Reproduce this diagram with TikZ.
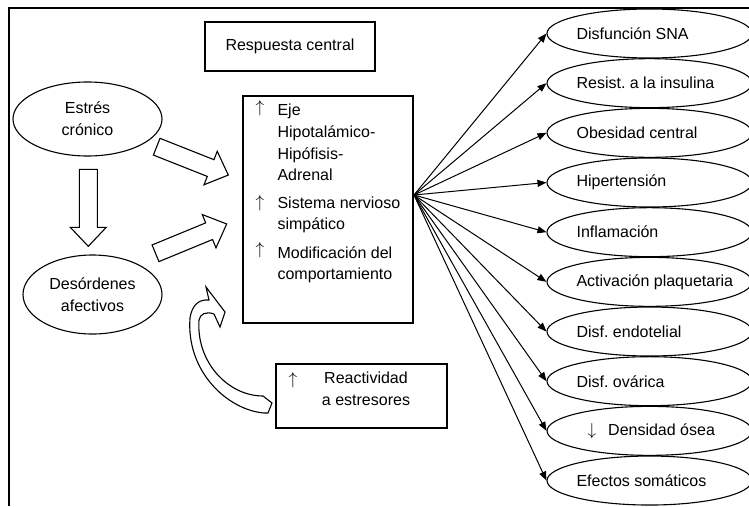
\documentclass[tikz,border=0pt]{standalone}
\usepackage{fontspec}
\setmainfont{Liberation Sans}
\frenchspacing
\usetikzlibrary{arrows.meta,shapes.geometric}
\begin{document}
\begin{tikzpicture}[x=1pt,y=-1pt,line width=1.1pt,
  txt/.style={font=\fontsize{16}{21.7}\selectfont, inner sep=0pt},
  bubble/.style={draw, ellipse, inner sep=0pt, align=center, txt},
  effect/.style={draw, ellipse, minimum width=205, minimum height=49},
  fanline/.style={-{Triangle[length=9pt,width=7pt]}, line width=1pt},
  blockarrow/.pic={\draw[fill=white] (0,-9) -- (58,-9) -- (58,-18) -- (77,0) -- (58,18) -- (58,9) -- (0,9) -- cycle;}]
\useasboundingbox (0,0) rectangle (749,506);
\draw (9,506) -- (9,8) -- (749,8);
% left side
\node[draw, minimum width=170, minimum height=49, txt] (resp) at (290,46.5) {Respuesta central};
\node[bubble, minimum width=149, minimum height=74] (estres) at (87.5,119) {Estrés\\crónico};
\node[bubble, minimum width=139, minimum height=79] (desord) at (92.5,294.5) {Desórdenes\\afectivos};
\pic[rotate=-90] at (88.3,169.3) {blockarrow};
\pic[rotate=-21.6] at (156.7,146.7) {blockarrow};
\pic[rotate=22.4] at (155.5,253.3) {blockarrow};
% central box
\node[draw, minimum width=170, minimum height=227, inner sep=0pt] (eje) at (328,209.5) {};
\node[txt] (up1) at (260,108) {$\uparrow$};
\node[txt] (up2) at (260,203) {$\uparrow$};
\node[txt] (up3) at (260,250) {$\uparrow$};
\node[txt, anchor=west, align=left] (hha) at (277,142.5) {Eje\\Hipotalámico-\\Hipófisis-\\Adrenal};
\node[txt, anchor=west, align=left] (sns) at (277,214.8) {Sistema nervioso\\simpático};
\node[txt, anchor=west, align=left] (mod) at (277,264.8) {Modificación del\\comportamiento};
% reactividad
\node[draw, minimum width=171, minimum height=64] (react) at (361.5,396) {};
\node[txt] (up4) at (293,380) {$\uparrow$};
\node[txt, align=center] (reacttxt) at (366,389) {Reactividad\\a estresores};
\draw[fill=white] (264,413) .. controls (228,410) and (186,372) .. (190,318)
  .. controls (192,305) and (199,299) .. (209,300) -- (206,287) -- (225,312) -- (220,327) -- (214,314)
  .. controls (206,311) and (200,314) .. (199,320)
  .. controls (196,362) and (228,396) .. (263,396) -- (272,403) -- (268,413) -- cycle;
% effects
\coordinate (fan) at (414,195);
\foreach \t [count=\i] in {Disfunción SNA, Resist. a la insulina, Obesidad central, Hipertensión, Inflamación, Activación plaquetaria, Disf. endotelial, Disf. ovárica, {\hspace*{11pt}$\downarrow$\hspace{12pt}Densidad ósea}, Efectos somáticos}
{
  \node[effect] (e\i) at (649.5,{33.5+49.67*(\i-1)}) {};
  \node[txt, anchor=west] (t\i) at (576,{33.5+49.67*(\i-1)}) {\t};
}
\foreach \i in {1,...,10}
  \draw[fanline] (fan) -- (e\i.west);
\end{tikzpicture}
\end{document}
